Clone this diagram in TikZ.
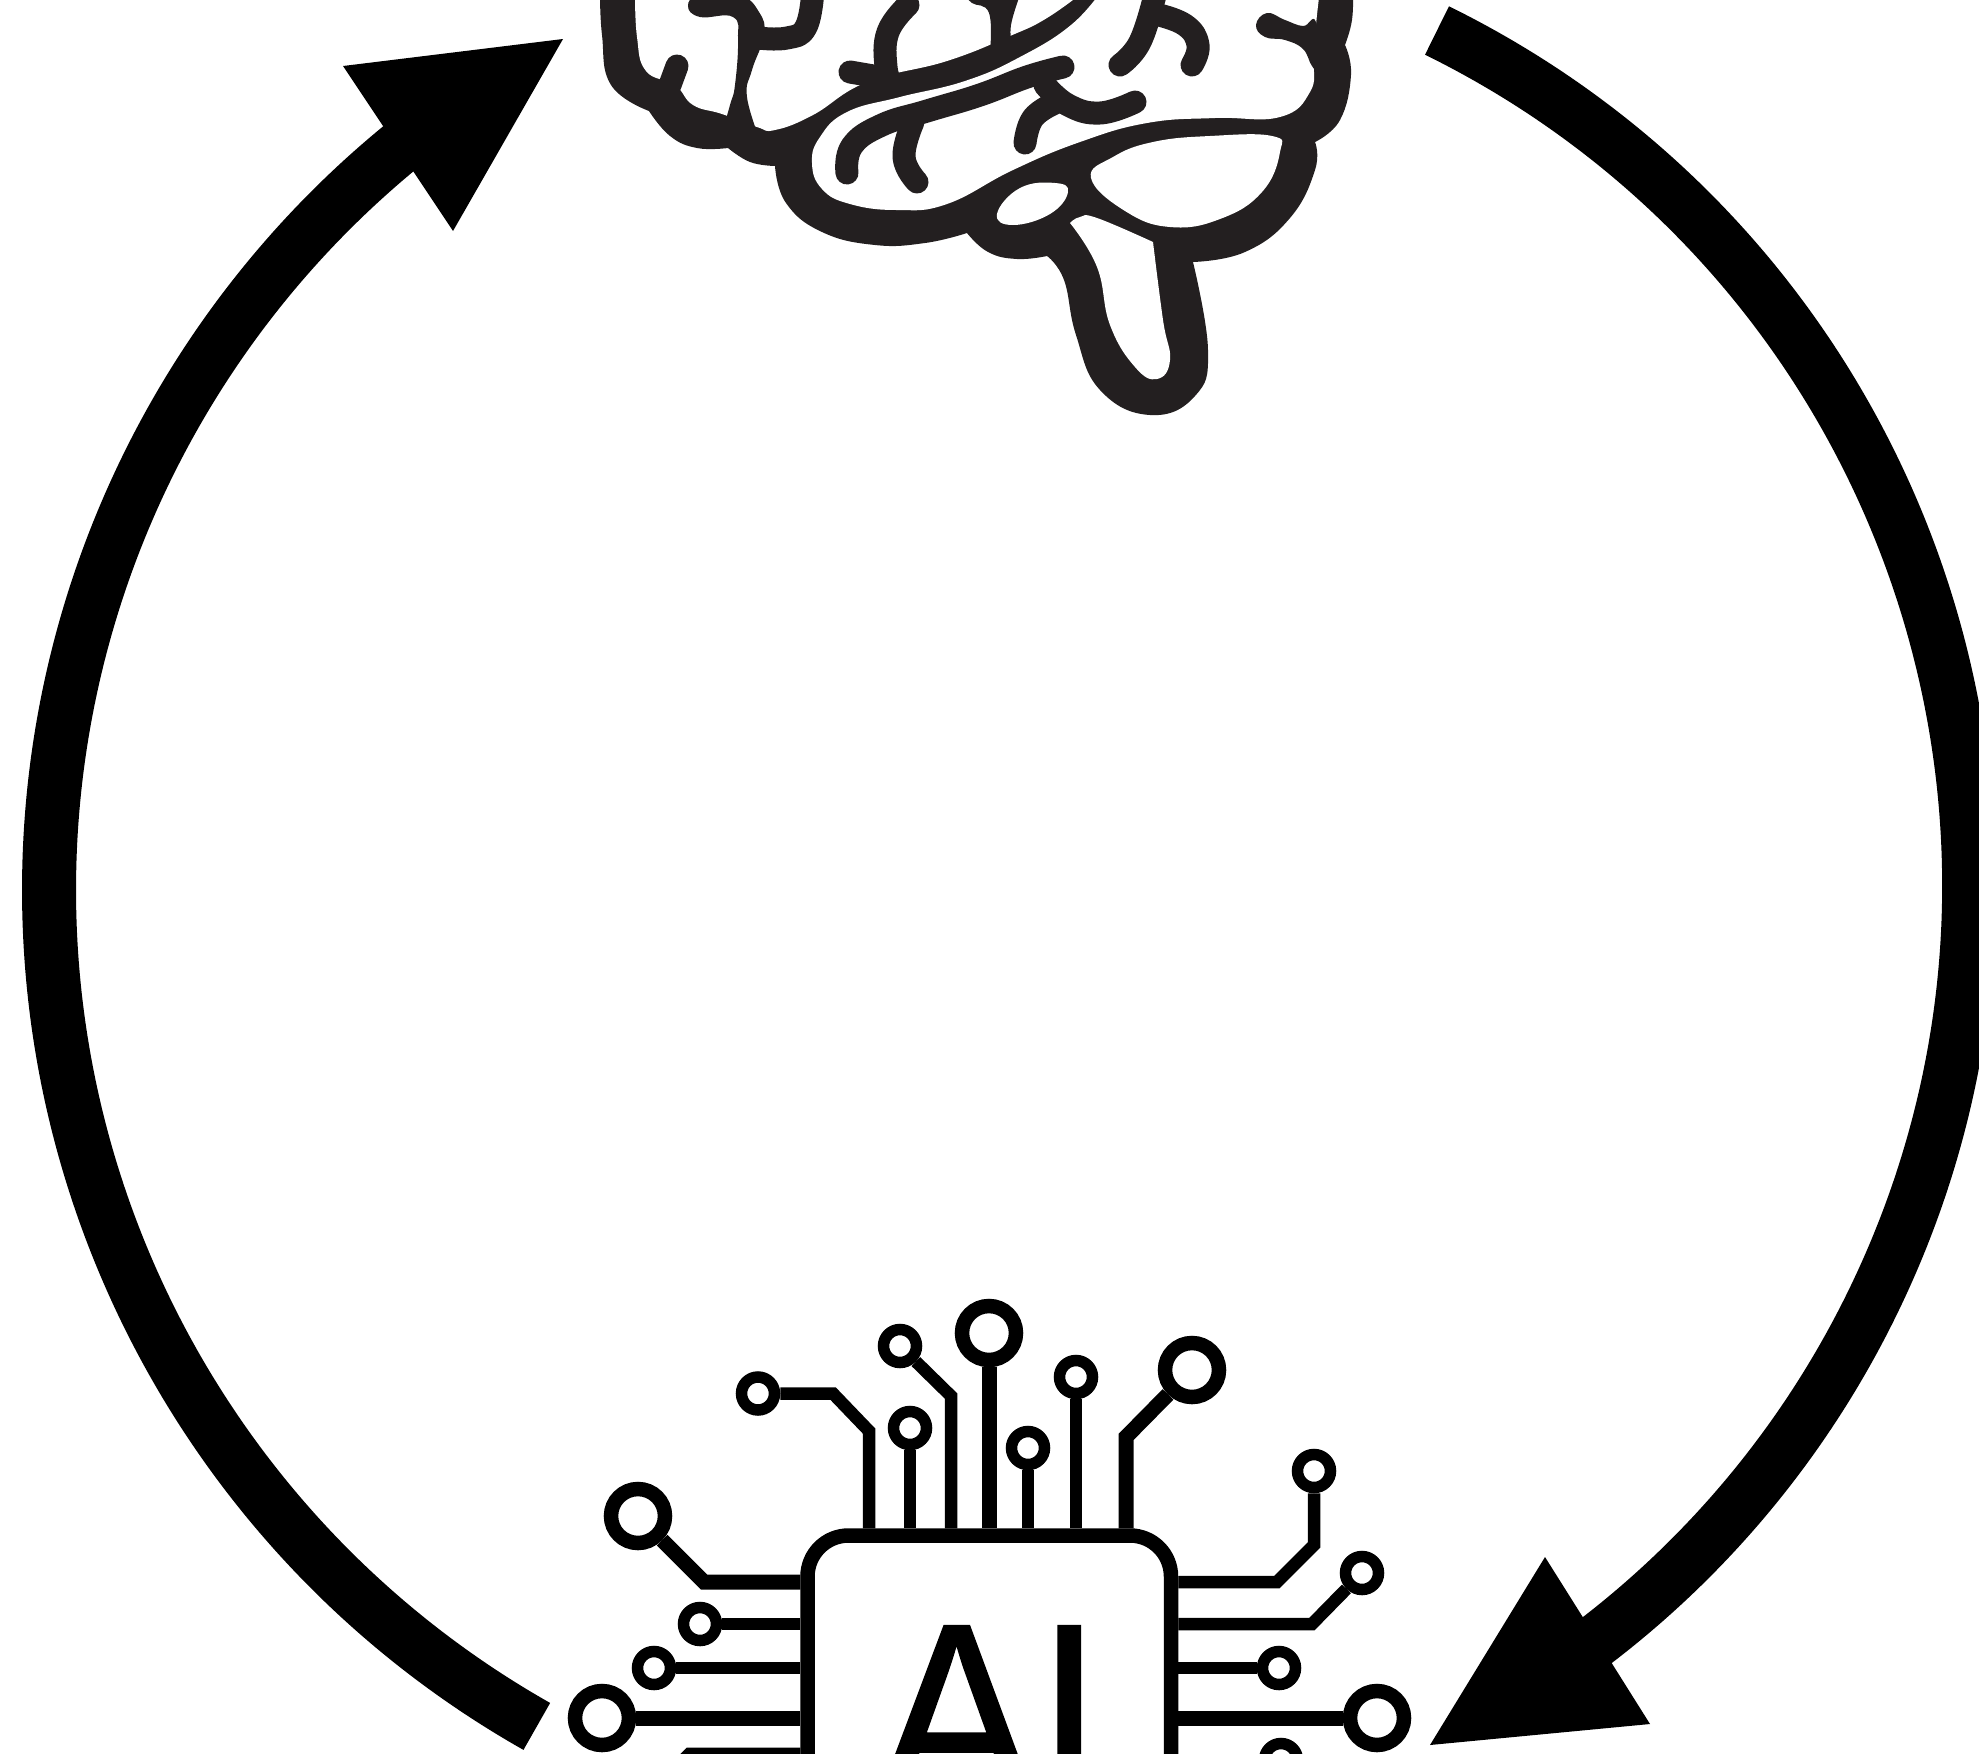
\documentclass[tikz,border=0pt]{standalone}
\usepackage{fontspec}
\setmainfont{Liberation Sans}
\newfontfamily\aifont{Liberation Sans}[FakeBold=0.6]
\definecolor{brainink}{HTML}{231F20}
\tikzset{
  ringstroke/.style={draw=black,line width=54pt,line cap=butt},
  headfill/.style={fill=black},
  chipbox/.style={draw=black,fill=white,line width=14.5pt,rounded corners=41pt,minimum width=363.5pt,minimum height=363.5pt,inner sep=0pt},
  ailabel/.style={inner sep=0pt,font=\aifont\fontsize{260}{260}\selectfont,text=black,transform shape,xscale=.92},
  pinsmall/.style={circle,draw=black,fill=white,line width=11.5pt,minimum size=33pt,inner sep=0pt},
  pinbig/.style={circle,draw=black,fill=white,line width=14.5pt,minimum size=54pt,inner sep=0pt},
  trace/.style={draw=black,line width=12.5pt,line join=miter},
  tracebig/.style={draw=black,line width=15pt,line join=miter},
  brainblack/.style={fill=brainink},
  brainwhite/.style={fill=white},
  sulcus/.style={draw=brainink,line width=23pt,line cap=round,line join=round},
}
\begin{document}
\begin{tikzpicture}[x=1pt,y=-1pt,tension=.75]
\path[use as bounding box,clip] (0,0) rectangle (1979,1754);
\fill[white] (0,0) rectangle (1979,1754);

% ---------- circular arrows
\coordinate (ltail) at (536.8,1726.4);
\coordinate (lb1) at (343,66);
\coordinate (ltip) at (563,39);
\coordinate (lb2) at (453,231);
\coordinate (rstart) at (1437,30.5);
\coordinate (rtip) at (1430,1745);
\coordinate (rb1) at (1545,1557);
\coordinate (rb2) at (1650,1724);
\draw[ringstroke] (ltail) arc[start angle=119.5,end angle=231,radius=961];
\fill[headfill] (lb1) -- (ltip) -- (lb2) -- cycle;
\draw[ringstroke] (rstart) arc[start angle=-63.8,end angle=53,radius=952.5];
\fill[headfill] (rb1) -- (rb2) -- (rtip) -- cycle;

% ---------- brain
\fill[brainblack]
  plot[smooth] coordinates {(600,-10)(602,35)(611,85)(649,111)}
  -- plot[smooth] coordinates {(649,111)(670,136)(697,148)(728,148)}
  -- plot[smooth] coordinates {(728,148)(750,162)(775,166)}
  -- plot[smooth] coordinates {(775,166)(786,203)(822,232)(875,245)(925,243)(967,233)}
  -- plot[smooth] coordinates {(967,233)(988,252)(1017,259)(1047,256)}
  -- plot[smooth] coordinates {(1047,256)(1064,280)(1076,335)(1100,390)(1150,415)(1195,396)(1208,350)(1193,262)}
  -- plot[smooth] coordinates {(1193,262)(1245,252)(1290,218)(1315,170)(1315,142)}
  -- plot[smooth] coordinates {(1315,142)(1340,120)(1351,75)(1345,45)}
  -- plot[smooth] coordinates {(1345,45)(1352,20)(1353,-10)}
  -- cycle;
% upper white region
\fill[brainwhite] plot[smooth] coordinates {(635,-10)(637,37)(646,71)(675,85)(693,105)(722,114)(757,127)(775,130)(813,115)(867,82)(947,61)(1010,36)(1047,18)(1086,-10)} -- cycle;
% temporal and right white region
\fill[brainwhite] plot[smooth] coordinates {(1102,-10)(1071,25)(1020,57)(965,81)(900,97)(847,112)(820,137)(812,163)(822,189)(850,204)(897,210)(947,204)(1013,170)(1080,142)(1147,123)(1215,118)(1280,117)(1310,92)(1314,60)(1316,25)(1320,-10)} -- cycle;
% gland, cerebellum, stem
\fill[brainwhite] plot[smooth cycle] coordinates {(997,214)(1020,188)(1055,183)(1068,192)(1050,214)(1013,225)};
\fill[brainwhite] plot[smooth cycle] coordinates {(1091,178)(1113,157)(1153,142)(1210,136)(1272,136)(1280,152)(1262,192)(1220,219)(1170,227)(1125,211)};
\fill[brainwhite] plot[smooth] coordinates {(1070,223)(1080,217)(1097,218)(1153,242)}
  -- plot[smooth] coordinates {(1153,242)(1163,320)(1170,360)(1157,379)(1135,367)(1110,325)(1097,267)(1070,223)} -- cycle;
% left lobe sulci
\draw[sulcus] (677,66) -- (670,85);
\fill[brainblack] plot[smooth] coordinates {(720,140)(730,105)(735,85)(738,40)(733,17)(700,17)(688,6)(700,-5)(739,-5)(759,12)(764,35)(752,70)(747,97)(760,140)} -- cycle;
\draw[sulcus] plot[smooth] coordinates {(758,38)(787,38)(806,27)(813,-10)};
\draw[sulcus] plot[smooth] coordinates {(908,5)(888,32)(886,67)(892,85)};
\draw[sulcus] (850,72) -- (885,78);
\fill[brainblack] plot[smooth] coordinates {(965,-5)(972,3)(989,13)(990,52)} -- plot[smooth] coordinates {(1012,44)(1011,25)(1020,-5)} -- cycle;
% temporal sulci
\draw[sulcus] plot[smooth] coordinates {(847,173)(852,146)(882,125)(927,111)(980,95)(1027,77)(1063,67)};
\draw[sulcus] plot[smooth] coordinates {(913,122)(904,157)(917,182)};
\draw[sulcus] plot[smooth] coordinates {(1045,85)(1068,105)(1100,113)(1135,102)};
\draw[sulcus] plot[smooth] coordinates {(1055,103)(1033,118)(1025,143)};
% right sulci
\draw[sulcus] plot[smooth] coordinates {(1120,65)(1140,42)(1155,-5)};
\draw[sulcus] plot[smooth] coordinates {(1155,14)(1185,25)(1198,45)(1192,65)};
\fill[brainblack] plot[smooth cycle] coordinates {(1256,25)(1267,13)(1285,20)(1303,26)(1316,22)(1320,70)(1312,66)(1303,49)(1285,40)(1265,37)};

% ---------- chip
\node[chipbox] (chip) at (989.25,1717.25) {};
\node[ailabel] (ai) at (989.5,1715) {AI};

% top pins
\node[pinsmall] (t1) at (758,1393.5) {};
\node[pinsmall] (t2) at (910,1428) {};
\node[pinsmall] (t3) at (900,1346) {};
\node[pinbig]   (t4) at (989,1333) {};
\node[pinsmall] (t5) at (1028,1448) {};
\node[pinsmall] (t6) at (1076,1377) {};
\node[pinbig]   (t7) at (1192,1370) {};
% right pins
\node[pinsmall] (r1) at (1314,1471) {};
\node[pinsmall] (r2) at (1362,1573) {};
\node[pinsmall] (r3) at (1279,1668) {};
\node[pinbig]   (r4) at (1377,1718) {};
\node[pinsmall] (r5) at (1281,1760) {};
% left pins
\node[pinbig]   (l1) at (638,1516) {};
\node[pinsmall] (l2) at (700,1624) {};
\node[pinsmall] (l3) at (654,1668) {};
\node[pinbig]   (l4) at (602,1718) {};

\draw[trace] (t1) -- (833,1393.5) -- (869,1431) -- (869,0 |- chip.north);
\draw[trace] (t2) -- (910,0 |- chip.north);
\draw[trace] (t3) -- (951,1396) -- (951,0 |- chip.north);
\draw[tracebig] (t4) -- (989,0 |- chip.north);
\draw[trace] (t5) -- (1028,0 |- chip.north);
\draw[trace] (t6) -- (1076,0 |- chip.north);
\draw[tracebig] (t7) -- (1126,1437) -- (1126,0 |- chip.north);

\draw[trace] (r1) -- (1314,1545) -- (1277,1582) -- (chip.east |- 0,1582);
\draw[trace] (r2) -- (1312,1624) -- (chip.east |- 0,1624);
\draw[trace] (r3) -- (chip.east |- 0,1668);
\draw[tracebig] (r4) -- (chip.east |- 0,1718);
\draw[trace] (r5) -- (chip.east |- 0,1760);

\draw[tracebig] (l1) -- (704,1582) -- (chip.west |- 0,1582);
\draw[trace] (l2) -- (chip.west |- 0,1624);
\draw[trace] (l3) -- (chip.west |- 0,1668);
\draw[tracebig] (l4) -- (chip.west |- 0,1718);
\draw[tracebig] (chip.west |- 0,1755) -- (690,1755) -- (640,1805);
\end{tikzpicture}
\end{document}
